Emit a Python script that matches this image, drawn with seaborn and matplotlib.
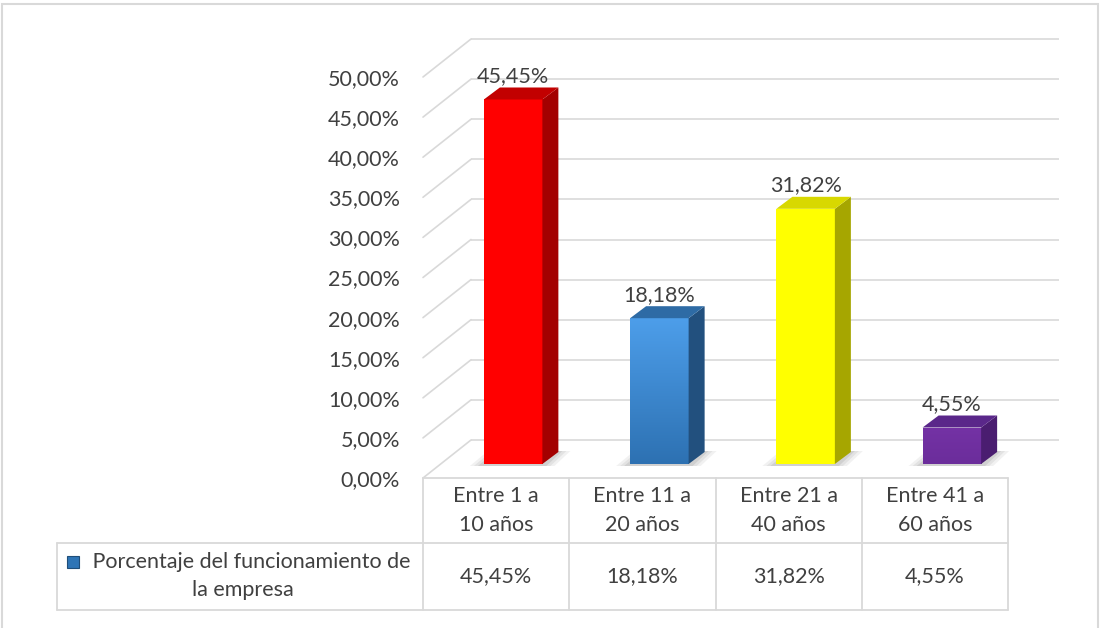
import numpy as np
import pandas as pd
import matplotlib
matplotlib.use("Agg")
import matplotlib.pyplot as plt
import seaborn as sns
from matplotlib.patches import Polygon, Rectangle
from matplotlib.lines import Line2D
from matplotlib.transforms import ScaledTranslation, IdentityTransform
from matplotlib.colors import LinearSegmentedColormap

# --- data -------------------------------------------------------------
categorias = ["Entre 1 a\n10 años", "Entre 11 a\n20 años",
              "Entre 21 a\n40 años", "Entre 41 a\n60 años"]
porcentajes = [45.45, 18.18, 31.82, 4.55]
serie = "Porcentaje del funcionamiento de\nla empresa"
ticks_y = [0, 5, 10, 15, 20, 25, 30, 35, 40, 45, 50]

# --- colours (front top / front bottom / side / top face) -------------
frente_sup = ["#FF0000", "#4D9EEA", "#FFFF00", "#7432A5"]
frente_inf = ["#FF0000", "#2D71B2", "#FFFF00", "#6B2D9B"]
color_lado = ["#A30000", "#22507E", "#A6A600", "#4A1D70"]
color_tapa = ["#C20000", "#2E6BA5", "#D8D800", "#5A278A"]
TXT = "#404040"
GRID = "#D9D9D9"


def pct(v):
    return f"{v:.2f}".replace(".", ",") + "%"


sns.set_theme(style="white")
plt.rcParams["font.family"] = ["Lato", "DejaVu Sans"]
FS = 15.5

W, H, DPI = 1100, 628, 100
fig = plt.figure(figsize=(W / DPI, H / DPI), dpi=DPI)
PIX = IdentityTransform()

# front plane of the plot area (pixel layout)
X0, X1, Y0, Y50 = 423, 1008, 478, 77
ax = fig.add_axes([X0 / W, 1 - Y0 / H, (X1 - X0) / W, (Y0 - Y50) / H])
ax.patch.set_visible(False)

df = pd.DataFrame({"categoria": categorias, "porcentaje": porcentajes})
sns.barplot(data=df, x="categoria", y="porcentaje", hue="categoria",
            palette=frente_sup, legend=False, width=0.4, saturation=1,
            linewidth=0, ax=ax)
ax.set_xlim(-0.5, 3.5)
ax.set_ylim(0, 50)


def desplazado(dx, dy):
    return ax.transData + ScaledTranslation(dx / DPI, dy / DPI, fig.dpi_scale_trans)


t_pared = desplazado(48, 38)   # back wall
t_barras = desplazado(17, 14)  # front face of the bars
PROF_X, PROF_Y = 16, 12        # depth of each bar

# back-wall gridlines and the left-hand diagonals
ax.hlines(ticks_y, -0.5, 3.52, transform=t_pared, colors=GRID, lw=1.2,
          clip_on=False, zorder=0)
for v in ticks_y:
    p0 = ax.transData.transform((-0.5, v))
    p1 = t_pared.transform((-0.5, v))
    ax.add_line(Line2D([p0[0], p1[0]], [p0[1], p1[1]], color=GRID, lw=1.2,
                       transform=PIX, clip_on=False, zorder=0))

# 3-D bars built from the seaborn rectangles
barras = list(ax.patches)
for i, p in enumerate(barras):
    p.set_transform(t_barras)
    p.set_zorder(3)
    p.set_clip_on(False)
    x, w, h = p.get_x(), p.get_width(), p.get_height()
    (xl, yb), (xr, yt) = t_barras.transform([(x, 0), (x + w, h)])

    # soft floor shadow
    for k, a in zip([12, 8, 4], [0.10, 0.13, 0.18]):
        sombra = [(xl - k - 2, yb - 2), (xr + k, yb - 2),
                  (xr + PROF_X + k, yb + PROF_Y + 1), (xl + PROF_X - k, yb + PROF_Y + 1)]
        ax.add_patch(Polygon(sombra, closed=True, facecolor="#7F7F7F", alpha=a,
                             edgecolor="none", transform=PIX, clip_on=False, zorder=2))

    # vertical gradient on the front face
    cmap = LinearSegmentedColormap.from_list(f"g{i}", [frente_inf[i], frente_sup[i]])
    im = ax.imshow(np.linspace(1, 0, 256).reshape(-1, 1), cmap=cmap, vmin=0, vmax=1,
                   extent=(x, x + w, 0, h), transform=t_barras, aspect="auto",
                   interpolation="bilinear", zorder=3.1)
    im.set_clip_path(p)

    lado = [(xr, yb), (xr + PROF_X, yb + PROF_Y), (xr + PROF_X, yt + PROF_Y), (xr, yt)]
    tapa = [(xl, yt), (xr, yt), (xr + PROF_X, yt + PROF_Y), (xl + PROF_X, yt + PROF_Y)]
    ax.add_patch(Polygon(lado, closed=True, facecolor=color_lado[i], edgecolor="none",
                         transform=PIX, clip_on=False, zorder=3.2))
    ax.add_patch(Polygon(tapa, closed=True, facecolor=color_tapa[i], edgecolor="none",
                         transform=PIX, clip_on=False, zorder=3.2))

    ax.annotate(pct(porcentajes[i]), xy=((xl + xr) / 2, yt + PROF_Y),
                xycoords="figure pixels", xytext=(0, 1), textcoords="offset points",
                ha="center", va="bottom", fontsize=FS, color=TXT, zorder=4)

ax.set_xlim(-0.5, 3.5)
ax.set_ylim(0, 50)

# axes decoration
ax.set_yticks(ticks_y)
ax.set_yticklabels([pct(v) for v in ticks_y])
ax.tick_params(axis="y", length=0, pad=16.5, labelsize=FS, labelcolor=TXT)
ax.set_xticks([])
ax.set_xlabel("")
ax.set_ylabel("")
for s in ax.spines.values():
    s.set_visible(False)

# data table below the plot (column edges follow the category axis)
T_LEFT, T_MID, T_BOTTOM = 57, 543, 610
fig.canvas.draw()
bordes = [ax.transData.transform((j - 0.5, 0))[0] for j in range(len(categorias) + 1)]
centros = [ax.transData.transform((j, 0))[0] for j in range(len(categorias))]
y_top = ax.transData.transform((0, 0))[1]
y_mid, y_bot = H - T_MID, H - T_BOTTOM


def linea(xs, ys):
    fig.add_artist(Line2D(xs, ys, color=GRID, lw=1.3, transform=PIX))


linea([bordes[0], bordes[-1]], [y_top, y_top])
linea([T_LEFT, bordes[-1]], [y_mid, y_mid])
linea([T_LEFT, bordes[-1]], [y_bot, y_bot])
linea([T_LEFT, T_LEFT], [y_mid, y_bot])
for b in bordes:
    linea([b, b], [y_top, y_bot])

for c, cx, v in zip(categorias, centros, porcentajes):
    fig.text(cx, (y_top + y_mid) / 2, c, transform=PIX, ha="center", va="center",
             multialignment="center", linespacing=1.6, fontsize=FS, color=TXT)
    fig.text(cx, (y_mid + y_bot) / 2, pct(v), transform=PIX, ha="center", va="center",
             fontsize=FS, color=TXT)

fig.text((T_LEFT + bordes[0]) / 2 + 3, (y_mid + y_bot) / 2, "   " + serie, transform=PIX,
         ha="center", va="center", multialignment="center", linespacing=1.5,
         fontsize=FS, color=TXT)

# legend key inside the table
fig.add_artist(Rectangle((67, H - 568), 12, 12, transform=PIX,
                         facecolor="#2E75B6", edgecolor="#1F4E79", lw=0.8))

# outer chart frame
fig.add_artist(Rectangle((2, -10), 1096, H - 4 + 10, transform=PIX,
                         facecolor="none", edgecolor=GRID, lw=1.5))

fig.savefig("out.png", dpi=DPI)
